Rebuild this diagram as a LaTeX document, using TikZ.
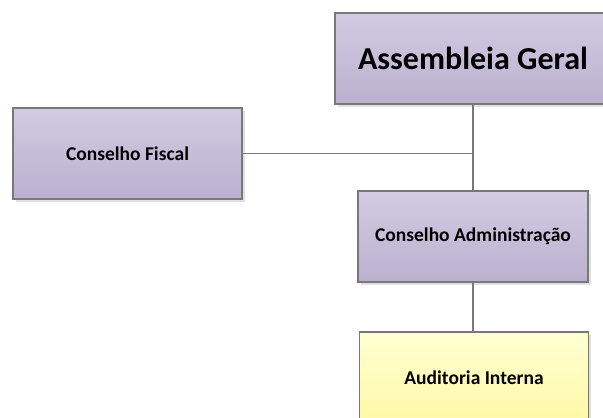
\documentclass[tikz,border=0pt]{standalone}
\usepackage{fontspec}
\setmainfont{Carlito}
\usetikzlibrary{shadows}
\definecolor{lilaoben}{HTML}{D2CBE2}
\definecolor{lilaunten}{HTML}{BBB1CF}
\definecolor{gelboben}{HTML}{FFFFD2}
\definecolor{gelbunten}{HTML}{FFF9A6}
\definecolor{rand}{HTML}{787878}
\tikzset{kasten/.style={rectangle, draw=rand, line width=1.1pt, top color=lilaoben, bottom color=lilaunten, minimum height=91pt, inner sep=0pt, font=\bfseries, drop shadow={shadow xshift=2.5pt, shadow yshift=-3pt, fill=black!12, opacity=1}},
	linie/.style={draw=rand, line width=1.1pt}}

\begin{document}
\begin{tikzpicture}[x=1pt, y=-1pt]
	\clip (0,0) rectangle (603,418);
	\fill[white] (0,0) rectangle (603,418);
	%Kaesten
	\node[kasten, minimum width=276pt, font=\bfseries\fontsize{32}{36}\selectfont] (ag) at (473,58.5) {Assembleia Geral};
	\node[kasten, minimum width=229pt, font=\bfseries\fontsize{19.5}{23}\selectfont] (cf) at (127.5,153.5) {Conselho Fiscal};
	\node[kasten, minimum width=230pt, font=\bfseries\fontsize{19.5}{23}\selectfont] (ca) at (473,236.5) {Conselho Administração};
	\node[kasten, minimum width=229pt, top color=gelboben, bottom color=gelbunten, font=\bfseries\fontsize{19.5}{23}\selectfont] (ai) at (474,377.5) {Auditoria Interna};
	%Linien
	\draw[linie] (ag.south) -- (ca.north);
	\coordinate (knoten) at (cf.east -| ag.south);
	\draw[linie] (cf.east) -- (knoten);
	\draw[linie] (ca.south) -- (ca.south |- ai.north);
\end{tikzpicture}
\end{document}
